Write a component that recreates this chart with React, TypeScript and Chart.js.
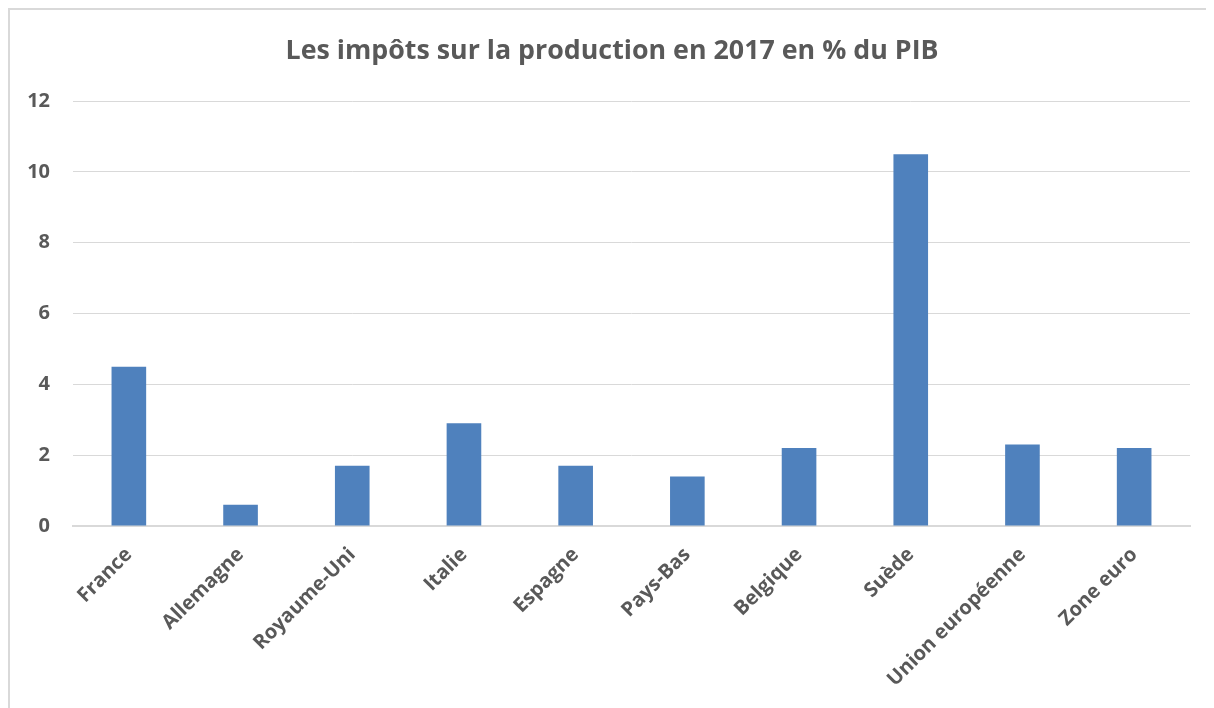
import React, { useEffect, useRef } from "react";
import { Chart, registerables } from "chart.js";

Chart.register(...registerables);

const categories = [
  "France",
  "Allemagne",
  "Royaume-Uni",
  "Italie",
  "Espagne",
  "Pays-Bas",
  "Belgique",
  "Suède",
  "Union européenne",
  "Zone euro",
];
const values = [4.5, 0.6, 1.7, 2.9, 1.7, 1.4, 2.2, 10.5, 2.3, 2.2];
const titleText = "Les impôts sur la production en 2017 en % du PIB";

const FONT = "'Open Sans', sans-serif";
const GREY = "#595959";

export default function App() {
  const ref = useRef<HTMLCanvasElement | null>(null);
  useEffect(() => {
    if (!ref.current) return;
    const chart = new Chart(ref.current, {
      type: "bar",
      data: {
        labels: categories,
        datasets: [
          {
            data: values,
            backgroundColor: "#4F81BD",
            borderWidth: 0,
            barPercentage: 1,
            categoryPercentage: 0.31,
          },
        ],
      },
      options: {
        animation: false,
        responsive: false,
        maintainAspectRatio: false,
        layout: { padding: 0 },
        plugins: {
          legend: { display: false },
          tooltip: { enabled: false },
          title: {
            display: true,
            text: titleText,
            color: GREY,
            font: { family: FONT, size: 26.8, weight: "bold", lineHeight: 1.2 },
            padding: { top: 25, bottom: 34 },
          },
        },
        scales: {
          x: {
            grid: { display: false, drawTicks: false },
            border: { display: true, color: "#d9d9d9", width: 2 },
            ticks: {
              color: GREY,
              font: { family: FONT, size: 20, weight: "bold" },
              minRotation: 45,
              maxRotation: 45,
              padding: 17,
            },
            afterFit: (s: any) => {
              s.height = 182;
            },
          },
          y: {
            min: 0,
            max: 12,
            ticks: {
              stepSize: 2,
              color: GREY,
              font: { family: FONT, size: 20, weight: "bold" },
              padding: 23,
            },
            grid: { color: "#d9d9d9", lineWidth: 1, drawTicks: false },
            border: { display: false },
            afterFit: (s: any) => {
              s.width = 63;
            },
          },
          yRight: {
            position: "right",
            min: 0,
            max: 12,
            grid: { display: false, drawTicks: false },
            border: { display: false },
            ticks: { display: false },
            afterFit: (s: any) => {
              s.width = 24;
            },
          },
        },
      },
    });
    return () => chart.destroy();
  }, []);

  return (
    <div style={{ width: 1206, height: 700, overflow: "hidden", position: "relative" }}>
      <div
        style={{
          position: "absolute",
          left: 0,
          top: 0,
          width: 1220,
          height: 720,
          borderLeft: "2px solid #d9d9d9",
          borderTop: "2px solid #d9d9d9",
        }}
      />
      <canvas
        ref={ref}
        width={1204}
        height={698}
        style={{ position: "absolute", left: 2, top: 2, display: "block" }}
      />
    </div>
  );
}
